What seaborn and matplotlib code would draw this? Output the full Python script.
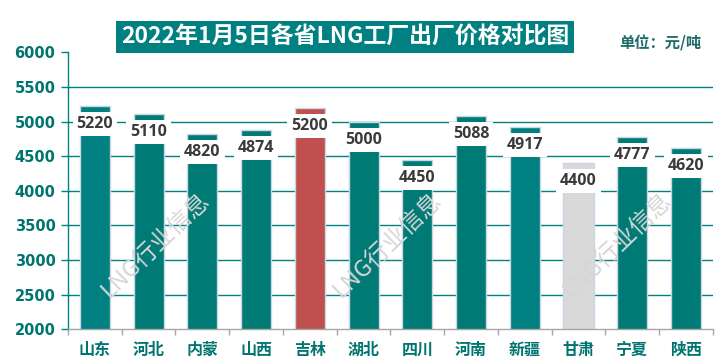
import matplotlib
matplotlib.use("Agg")
import matplotlib.pyplot as plt
import seaborn as sns
import pandas as pd

provinces = ["山东", "河北", "内蒙", "山西", "吉林", "湖北",
             "四川", "河南", "新疆", "甘肃", "宁夏", "陕西"]
prices = [5220, 5110, 4820, 4874, 5200, 5000, 4450, 5088, 4917, 4400, 4777, 4620]
bar_colors = ["#008080", "#007A74", "#007A74", "#007A74", "#C0504D", "#007A74",
              "#007A74", "#007A74", "#008080", "#D9D9D9", "#007A74", "#007A74"]
yticks = [2000, 2500, 3000, 3500, 4000, 4500, 5000, 5500, 6000]

title = "2022年1月5日各省LNG工厂出厂价格对比图"
unit = "单位：元/吨"
watermark = "LNG行业信息"

teal = "#008080"
dark_teal = "#007570"

sns.set_theme(style="white")
plt.rcParams["font.family"] = ["Noto Sans CJK SC", "DejaVu Sans"]

df = pd.DataFrame({"province": provinces, "price": prices})

fig = plt.figure(figsize=(7.23, 3.64), dpi=100)
ax = fig.add_axes([0.094, 0.0953, 0.892, 0.7607])

# gridlines (none at the top value)
for y in yticks[1:-1]:
    ax.axhline(y, color=teal, lw=1, zorder=0)

sns.barplot(data=df, x="province", y="price", hue="province",
            palette=bar_colors, legend=False, width=0.56, saturation=1,
            edgecolor="#C9D6E6", linewidth=1, ax=ax, zorder=2)

# value labels with white boxes that cut into the bar tops
for i, v in enumerate(prices):
    ax.annotate(str(v), (i, v), xytext=(0, -10), textcoords="offset pixels",
                ha="center", va="top", fontsize=11.5, fontweight="bold",
                family=["Open Sans", "DejaVu Sans"], color="#3A3A3A", zorder=4,
                bbox=dict(boxstyle="square,pad=0.25", fc="white", ec="none"))

ax.set_ylim(2000, 6000)
ax.set_xlim(-0.5, len(provinces) - 0.5)
ax.set_yticks(yticks)
ax.set_xlabel("")
ax.set_ylabel("")

for s in ["top", "right"]:
    ax.spines[s].set_visible(False)
ax.spines["left"].set_color(teal)
ax.spines["left"].set_linewidth(1)
ax.spines["bottom"].set_color("#A6A6A6")
ax.spines["bottom"].set_linewidth(1)

ax.tick_params(axis="y", which="major", left=True, length=5, width=1,
               color=teal, labelcolor=dark_teal, labelsize=10.5, pad=4)
for lab in ax.get_yticklabels():
    lab.set_fontweight("bold")
    lab.set_family(["DejaVu Sans"])

ax.set_xticks([i - 0.5 for i in range(len(provinces) + 1)], minor=True)
ax.tick_params(axis="x", which="minor", bottom=True, length=4, width=1, color="#A6A6A6")
ax.tick_params(axis="x", which="major", bottom=False, labelcolor=dark_teal,
               labelsize=11.5, pad=3)
for lab in ax.get_xticklabels():
    lab.set_fontweight("bold")

# watermarks
for xf in [0.214, 0.535, 0.853]:
    fig.text(xf, 0.327, watermark, rotation=44, ha="center", va="center",
             fontsize=17, color="#D6D6D6", fontweight="light", zorder=1)

fig.text(0.477, 0.898, title, ha="center", va="center", fontsize=16.5,
         fontweight="bold", color="white",
         bbox=dict(boxstyle="square,pad=0.2", fc=teal, ec="none"))
fig.text(0.913, 0.882, unit, ha="center", va="center", fontsize=11,
         fontweight="bold", color="#1F6B68")

fig.savefig("out.png", dpi=100)
